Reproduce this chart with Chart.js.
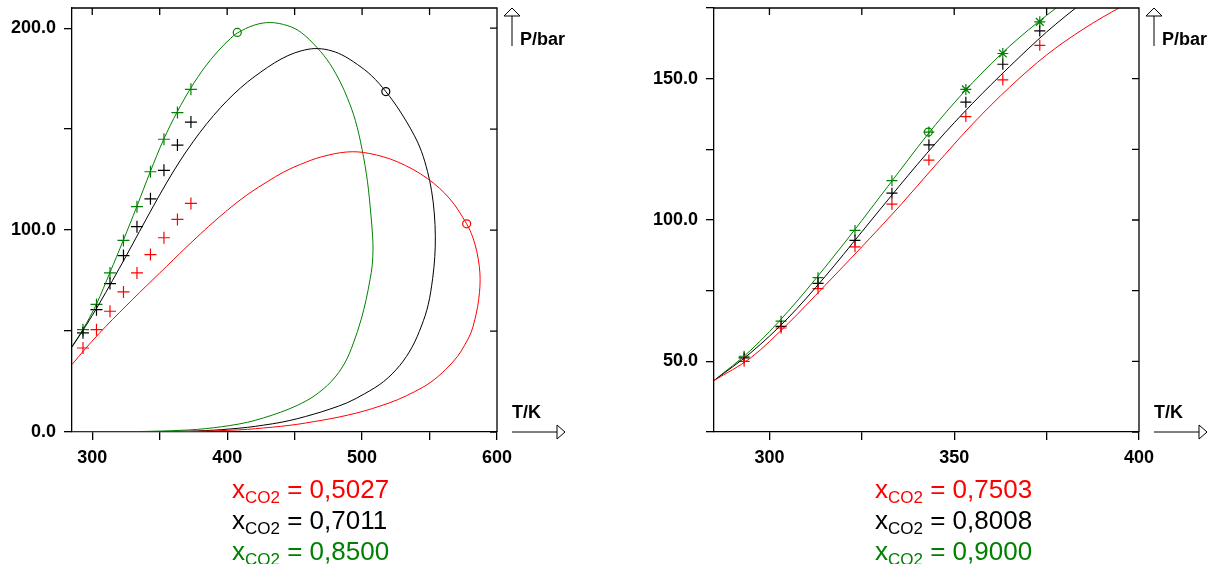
<!DOCTYPE html>
<html>
<head>
<meta charset="utf-8">
<script src="https://cdn.jsdelivr.net/npm/chart.js@4.4.0/dist/chart.umd.min.js"></script>
<style>
  html, body { margin: 0; padding: 0; background: #fff; }
  body { width: 1216px; height: 564px; position: relative; overflow: hidden; font-family: "Liberation Sans", Arial, sans-serif; }
  .plot { position: absolute; top: 0; width: 608px; height: 564px; }
  .legend { position: absolute; font-size: 26px; line-height: 31px; white-space: nowrap; }
  .legend sub { font-size: 17px; vertical-align: -5px; line-height: 0; }
</style>
</head>
<body>
<div class="plot" style="left:0"><canvas id="left"></canvas></div>
<div class="plot" style="left:608px"><canvas id="right"></canvas></div>
<div class="legend" id="legLeft" style="left:232px;top:474px"></div>
<div class="legend" id="legRight" style="left:875px;top:474px"></div>
<script>
// colours of the three mixtures (red, black, green)
const seriesColors = ['#ff0000', '#000000', '#008000'];
const leftLegend = ['0,5027', '0,7011', '0,8500'];
const rightLegend = ['0,7503', '0,8008', '0,9000'];

// measured temperatures (K)
const expT = [293.15, 303.15, 313.15, 323.15, 333.15, 343.15, 353.15, 363.15, 373.15];

// ---- left panel ----
const leftRedExp = [41.6, 50.7, 59.8, 69.4, 78.8, 87.9, 96.2, 105.3, 113.2];
const leftBlackExp = [49.1, 60.6, 73.5, 87.4, 101.7, 115.5, 129.6, 142.1, 153.5];
const leftGreenExp = [50.7, 63.2, 78.8, 94.9, 111.6, 128.9, 145.0, 158.2, 169.7];

const leftRedT = [285, 295, 305, 315, 325, 335, 345, 355, 365, 380, 392.5, 405, 417, 429.8, 442, 454.5, 470, 489, 505, 526.3, 548.5, 565, 577.5, 582, 585, 586.9, 587.5, 587, 585.7, 583.5, 580.7, 576, 570.8, 562, 551, 539, 526.3, 514, 501.5, 489, 476.8, 464, 452, 439.6, 427, 414.9, 400, 385, 365, 330, 285];
const leftRedP = [33.4, 41.3, 48.7, 55.7, 62.4, 69, 75.5, 82, 88.5, 98, 105.5, 112.5, 118.5, 124, 128.8, 132.6, 136.3, 138.7, 138, 133.8, 125.5, 115.5, 103.1, 96.5, 89.5, 82, 75.5, 69, 62.3, 55.5, 49.1, 43, 37.5, 31, 24.7, 20, 16, 13, 10.4, 8.3, 6.6, 5.1, 3.8, 2.8, 2, 1.3, 0.8, 0.45, 0.2, 0.05, 0];

const leftBlackT = [285, 295, 305, 315, 325, 335, 345, 355, 365, 375, 385, 395, 405, 415, 425, 435, 445, 455, 465, 475, 485, 496.6, 507, 517.6, 528, 538.6, 544, 548.5, 551.5, 553.5, 554.3, 553.9, 552.3, 549, 544, 537, 528, 516, 502, 489, 476, 464, 452, 440, 427, 415, 402, 390, 378, 365, 340, 310, 285];
const leftBlackP = [42.1, 52.3, 63.3, 75, 87, 99.3, 111.5, 123.3, 134.2, 144, 152.8, 160.6, 167.4, 173.3, 178.3, 182.8, 186.4, 188.8, 189.9, 189.2, 186.8, 182, 176.5, 168.6, 159, 147, 139, 129, 119.5, 108.5, 97, 87, 76, 63, 52.5, 42, 33, 25, 19, 14.5, 11.3, 8.8, 6.6, 4.8, 3.4, 2.3, 1.5, 0.9, 0.55, 0.3, 0.1, 0.02, 0];

const leftGreenT = [285, 293, 303, 313, 323, 333, 343, 353, 363, 373, 383, 392.6, 402.6, 407.5, 420, 432, 445, 455, 466.9, 476, 484.2, 489.2, 495, 500, 504, 506.5, 507.8, 508.1, 507.5, 505.9, 503, 499.3, 493.6, 487.2, 477.3, 464.4, 452, 439.6, 427, 415, 402, 390, 378, 365, 340, 310, 285];
const leftGreenP = [42.4, 50.7, 63.2, 78.8, 94.9, 111.6, 128.9, 145, 158.6, 170.3, 180.3, 188.2, 195, 197.6, 201.5, 202.8, 201.2, 197.8, 190.2, 182.5, 172.8, 165.3, 154.3, 140, 124, 108, 97, 90, 82.5, 75.5, 65.6, 55.7, 44.1, 34.2, 25.1, 17.8, 13.2, 9.8, 7, 4.8, 3.2, 2.1, 1.3, 0.8, 0.3, 0.1, 0];

// critical points (red, black, green)
const leftCritT = [577.5, 517.6, 407.5];
const leftCritP = [103.1, 168.6, 197.9];

const leftXTicks = [300, 350, 400, 450, 500, 550, 600];
const leftXLabels = [300, 400, 500, 600];
const leftYTicks = [0, 50, 100, 150, 200];
const leftYLabels = [0, 100, 200];

// ---- right panel ----
const rightRedExp = [50.0, 61.8, 75.7, 90.5, 105.6, 121.2, 136.6, 149.6, 161.8];
const rightBlackExp = [51.2, 62.4, 77.6, 92.8, 109.5, 126.6, 141.7, 155.1, 166.9];
const rightGreenExp = [51.8, 64.2, 79.6, 96.3, 113.9, 131.1, 146.2, 158.9, 170.1];
const rightGreenStyle = ['cross', 'cross', 'cross', 'cross', 'cross', 'cross', 'star', 'star', 'star'];

const rightRedT = [285, 295, 305, 315, 325, 335, 345, 355, 365, 375, 385, 395, 400];
const rightRedP = [43.2, 51.3, 63.3, 76.8, 90.5, 104.6, 119.5, 134, 147, 158.4, 167.6, 175.3, 178.6];
const rightBlackT = [285, 295, 305, 315, 325, 335, 345, 355, 365, 375, 385, 390];
const rightBlackP = [43.2, 53.1, 65.3, 79.9, 95.8, 111.8, 127.2, 141.3, 154.3, 166.5, 177.2, 182.2];
const rightGreenT = [285, 295, 305, 315, 325, 335, 345, 355, 365, 375, 385];
const rightGreenP = [43.2, 54, 67.6, 83.2, 99.8, 117, 133.8, 148.6, 161.5, 172.4, 182];

const rightCritT = [343.0];
const rightCritP = [131.1];

const rightXTicks = [300, 325, 350, 375, 400];
const rightXLabels = [300, 350, 400];
const rightYTicks = [25, 50, 75, 100, 125, 150, 175];
const rightYLabels = [50, 100, 150];

const FONT = '"Liberation Sans", Arial, sans-serif';
Chart.defaults.font.family = FONT;

const pts = (xs, ys) => xs.map((v, i) => ({ x: v, y: ys[i] }));

function curve(xs, ys, color, monotone) {
    return {
        data: pts(xs, ys),
        showLine: true,
        borderColor: color,
        borderWidth: 1,
        pointRadius: 0,
        pointHoverRadius: 0,
        tension: 0.35,
        cubicInterpolationMode: monotone ? 'monotone' : 'default',
        fill: false
    };
}

function marks(xs, ys, color, style, r) {
    return {
        data: pts(xs, ys),
        showLine: false,
        pointStyle: style,
        pointRadius: r,
        pointHoverRadius: r,
        pointBorderColor: color,
        pointBackgroundColor: 'rgba(0,0,0,0)',
        pointBorderWidth: 1.2
    };
}

function scales(xMin, xMax, xTicks, xLabels, yMin, yMax, yTicks, yLabels, yWidth) {
    const tickFont = { family: FONT, size: 18, weight: 'bold' };
    return {
        x: {
            type: 'linear', position: 'bottom', min: xMin, max: xMax,
            afterBuildTicks: s => { s.ticks = xTicks.map(v => ({ value: v })); },
            afterFit: s => { s.height = 132; s.paddingLeft = 0; s.paddingRight = 0; },
            ticks: { autoSkip: false, maxRotation: 0, padding: 7, color: '#000', font: tickFont,
                     callback: v => xLabels.includes(v) ? String(v) : '' },
            grid: { drawOnChartArea: false, drawTicks: true, tickLength: 8, color: '#000', lineWidth: 1.3 },
            border: { display: true, color: '#000', width: 1.3 }
        },
        y: {
            type: 'linear', position: 'left', min: yMin, max: yMax,
            afterBuildTicks: s => { s.ticks = yTicks.map(v => ({ value: v })); },
            afterFit: s => { s.width = yWidth; s.paddingTop = 0; s.paddingBottom = 0; },
            ticks: { autoSkip: false, padding: 8, color: '#000', font: tickFont,
                     callback: v => yLabels.includes(v) ? v.toFixed(1) : '' },
            grid: { drawOnChartArea: false, drawTicks: true, tickLength: 8, color: '#000', lineWidth: 1.3 },
            border: { display: true, color: '#000', width: 1.3 }
        }
    };
}

// top/right frame with inward ticks, plus the axis arrows and titles
const framePlugin = {
    id: 'frame',
    afterDraw(chart) {
        const { ctx, chartArea: a, scales: { x, y } } = chart;
        ctx.save();
        ctx.strokeStyle = '#000';
        ctx.lineWidth = 1.3;
        ctx.beginPath();
        ctx.moveTo(a.left, a.top);
        ctx.lineTo(a.right, a.top);
        ctx.lineTo(a.right, a.bottom);
        x.ticks.forEach(t => {
            const p = x.getPixelForValue(t.value);
            ctx.moveTo(p, a.top);
            ctx.lineTo(p, a.top + 7);
        });
        y.ticks.forEach(t => {
            const p = y.getPixelForValue(t.value);
            ctx.moveTo(a.right, p);
            ctx.lineTo(a.right - 7, p);
        });
        ctx.stroke();

        ctx.lineWidth = 1;
        const ax = a.right + 15;
        ctx.beginPath();
        ctx.moveTo(ax, a.top + 8);
        ctx.lineTo(ax, a.top + 38);
        ctx.moveTo(ax, a.top);
        ctx.lineTo(ax + 8, a.top + 8);
        ctx.lineTo(ax - 8, a.top + 8);
        ctx.closePath();
        ctx.stroke();

        const by = a.bottom;
        ctx.beginPath();
        ctx.moveTo(a.right + 15, by);
        ctx.lineTo(a.right + 60, by);
        ctx.moveTo(a.right + 68, by);
        ctx.lineTo(a.right + 60, by - 7);
        ctx.lineTo(a.right + 60, by + 7);
        ctx.closePath();
        ctx.stroke();

        ctx.fillStyle = '#000';
        ctx.font = 'bold 18px ' + FONT;
        ctx.textBaseline = 'alphabetic';
        ctx.textAlign = 'left';
        ctx.fillText('P/bar', a.right + 23, a.top + 37);
        ctx.fillText('T/K', a.right + 15, a.bottom - 14);
        ctx.restore();
    }
};

function baseOptions(sc, padRight) {
    return {
        responsive: true,
        maintainAspectRatio: false,
        animation: false,
        devicePixelRatio: 1,
        layout: { padding: { top: 8, right: padRight, left: 0, bottom: 0 } },
        plugins: { legend: { display: false }, tooltip: { enabled: false } },
        events: [],
        scales: sc
    };
}

const [cr, ck, cg] = seriesColors;

new Chart(document.getElementById('left'), {
    type: 'scatter',
    data: {
        datasets: [
            curve(leftRedT, leftRedP, cr, false),
            curve(leftBlackT, leftBlackP, ck, false),
            curve(leftGreenT, leftGreenP, cg, false),
            marks(expT, leftRedExp, cr, 'cross', 6),
            marks(expT, leftBlackExp, ck, 'cross', 6),
            marks(expT, leftGreenExp, cg, 'cross', 6),
            marks(leftCritT, leftCritP, [cr, ck, cg], 'circle', 4)
        ]
    },
    options: baseOptions(scales(285, 600, leftXTicks, leftXLabels, 0, 210, leftYTicks, leftYLabels, 72), 111),
    plugins: [framePlugin]
});

new Chart(document.getElementById('right'), {
    type: 'scatter',
    data: {
        datasets: [
            curve(rightRedT, rightRedP, cr, true),
            curve(rightBlackT, rightBlackP, ck, true),
            curve(rightGreenT, rightGreenP, cg, true),
            marks(expT, rightRedExp, cr, 'cross', 5.5),
            marks(expT, rightBlackExp, ck, 'cross', 5.5),
            marks(expT, rightGreenExp, cg, rightGreenStyle, 5.5),
            marks(rightCritT, rightCritP, cg, 'circle', 4)
        ]
    },
    options: baseOptions(scales(285, 400, rightXTicks, rightXLabels, 25, 175, rightYTicks, rightYLabels, 106), 77),
    plugins: [framePlugin]
});

// composition legends under each panel
function fillLegend(id, values) {
    const box = document.getElementById(id);
    values.forEach((v, i) => {
        const row = document.createElement('div');
        row.style.color = seriesColors[i];
        row.innerHTML = 'x<sub>CO2</sub> = ' + v;
        box.appendChild(row);
    });
}
fillLegend('legLeft', leftLegend);
fillLegend('legRight', rightLegend);
</script>
</body>
</html>
